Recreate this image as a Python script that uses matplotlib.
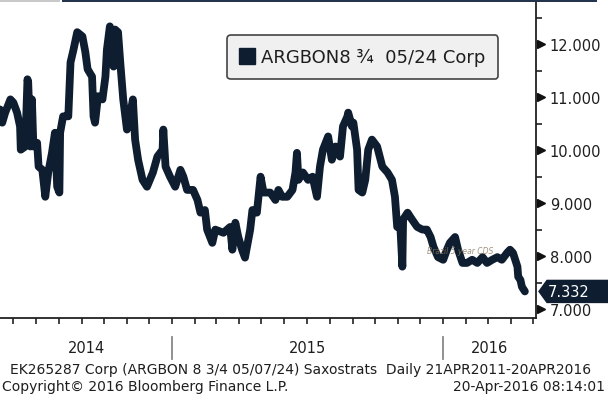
import pandas as pd
import matplotlib
matplotlib.use('Agg')
import matplotlib.pyplot as plt
import matplotlib.dates as mdates
from matplotlib.lines import Line2D
from matplotlib.patches import Polygon, Rectangle
from matplotlib.transforms import blended_transform_factory

# --- Datos (rendimiento ARGBON 8 3/4 05/24) ---
fechas = [
    '2014-05-14', '2014-05-17', '2014-05-21', '2014-05-28', '2014-06-01', '2014-06-06',
    '2014-06-10', '2014-06-11', '2014-06-17', '2014-06-20', '2014-06-21', '2014-06-24',
    '2014-06-26', '2014-06-28', '2014-07-03', '2014-07-05', '2014-07-10', '2014-07-14',
    '2014-07-18', '2014-07-23', '2014-07-27', '2014-07-30', '2014-08-02', '2014-08-03',
    '2014-08-07', '2014-08-14', '2014-08-17', '2014-08-21', '2014-08-26', '2014-09-02',
    '2014-09-06', '2014-09-09', '2014-09-15', '2014-09-17', '2014-09-19', '2014-09-23',
    '2014-09-29', '2014-10-03', '2014-10-05', '2014-10-09', '2014-10-14', '2014-10-16',
    '2014-10-20', '2014-10-23', '2014-10-27', '2014-11-01', '2014-11-05', '2014-11-09',
    '2014-11-12', '2014-11-16', '2014-11-22', '2014-11-28', '2014-12-06', '2014-12-12',
    '2014-12-19', '2014-12-20', '2014-12-23', '2014-12-29', '2015-01-05', '2015-01-12',
    '2015-01-16', '2015-01-21', '2015-01-29', '2015-02-04', '2015-02-08', '2015-02-14',
    '2015-02-17', '2015-02-24', '2015-02-28', '2015-03-11', '2015-03-20', '2015-03-23',
    '2015-03-27', '2015-03-31', '2015-04-05', '2015-04-09', '2015-04-16', '2015-04-19',
    '2015-04-25', '2015-04-30', '2015-05-04', '2015-05-13', '2015-05-20', '2015-05-24',
    '2015-05-29', '2015-06-05', '2015-06-12', '2015-06-16', '2015-06-18', '2015-06-20',
    '2015-06-26', '2015-07-03', '2015-07-09', '2015-07-15', '2015-07-19', '2015-07-23',
    '2015-07-30', '2015-08-04', '2015-08-09', '2015-08-15', '2015-08-19', '2015-08-25',
    '2015-08-26', '2015-08-31', '2015-09-02', '2015-09-07', '2015-09-09', '2015-09-14',
    '2015-09-18', '2015-09-22', '2015-09-27', '2015-10-04', '2015-10-11', '2015-10-18',
    '2015-10-24', '2015-10-28', '2015-10-31', '2015-11-04', '2015-11-07', '2015-11-08',
    '2015-11-14', '2015-11-20', '2015-11-27', '2015-12-04', '2015-12-10', '2015-12-15',
    '2015-12-19', '2015-12-25', '2016-01-01', '2016-01-06', '2016-01-10', '2016-01-17',
    '2016-01-21', '2016-01-27', '2016-02-02', '2016-02-09', '2016-02-16', '2016-02-23',
    '2016-02-29', '2016-03-07', '2016-03-14', '2016-03-20', '2016-03-27', '2016-03-31',
    '2016-04-04', '2016-04-10', '2016-04-11', '2016-04-14', '2016-04-16', '2016-04-20',
]
rendimiento = [
    10.77, 10.52, 10.71, 10.96, 10.90, 10.71,
    10.45, 10.01, 10.07, 11.34, 11.28, 10.07,
    10.96, 10.07, 10.14, 9.69, 9.63, 9.12,
    9.58, 9.95, 10.33, 9.31, 9.20, 10.33,
    10.64, 10.64, 11.66, 11.90, 12.23, 12.15,
    11.85, 11.53, 11.39, 10.64, 10.52, 11.02,
    10.96, 11.39, 11.90, 12.34, 11.58, 12.28,
    12.23, 11.66, 10.96, 10.39, 10.64, 10.96,
    10.20, 9.82, 9.44, 9.31, 9.58, 9.88,
    10.01, 10.39, 9.69, 9.50, 9.31, 9.63,
    9.50, 9.25, 9.25, 9.06, 8.82, 8.87,
    8.50, 8.25, 8.50, 8.44, 8.55, 8.12,
    8.63, 8.36, 8.12, 7.97, 8.50, 8.87,
    8.82, 9.50, 9.20, 9.20, 9.06, 9.25,
    9.12, 9.12, 9.25, 9.58, 9.95, 9.44,
    9.58, 9.44, 9.50, 9.12, 9.69, 10.01,
    10.26, 9.82, 10.07, 9.88, 10.45, 10.64,
    10.71, 10.45, 10.52, 10.01, 9.25, 9.20,
    9.44, 10.01, 10.20, 10.07, 9.69, 9.58,
    9.44, 9.12, 8.55, 8.63, 7.80, 8.69,
    8.82, 8.69, 8.55, 8.50, 8.50, 8.36,
    8.17, 7.98, 7.93, 8.12, 8.25, 8.36,
    8.12, 7.87, 7.87, 7.93, 7.87, 7.98,
    7.87, 7.93, 7.98, 7.93, 8.06, 8.12,
    8.06, 7.80, 7.61, 7.55, 7.42, 7.332,
]
anios = ['2014', '2015', '2016']
ticks_y = [7, 8, 9, 10, 11, 12]
leyenda = 'ARGBON8 \u00be  05/24 Corp'
nota = 'Brazil 5 year CDS'
pie_1 = 'EK265287 Corp (ARGBON 8 3/4 05/07/24) Saxostrats  Daily 21APR2011-20APR2016'
pie_2 = 'Copyright\u00a9 2016 Bloomberg Finance L.P.'
pie_3 = '20-Apr-2016 08:14:01'

AZUL = '#0e1e30'
TEXTO = '#1e1e1e'

plt.rcParams['font.family'] = ['DejaVu Sans']

x = pd.to_datetime(fechas)

fig = plt.figure(figsize=(6.08, 4.02), dpi=100)
ax = fig.add_axes([0, 83 / 402, 536 / 608, 316 / 402])

# Barra superior (estilo terminal)
fig.add_artist(Rectangle((0, 399 / 402), 60 / 608, 3 / 402, transform=fig.transFigure,
                         color='#c8c8c8', lw=0))
fig.add_artist(Rectangle((62 / 608, 399 / 402), 535 / 608, 3 / 402, transform=fig.transFigure,
                         color='#24344f', lw=0))

ax.plot(x, rendimiento, color=AZUL, lw=5.6, solid_joinstyle='round', solid_capstyle='round')

ax.set_xlim(pd.Timestamp('2014-05-14'), pd.Timestamp('2016-05-05'))
ax.set_ylim(6.83, 12.80)

# Ejes: solo derecho e inferior
for lado in ['top', 'left']:
    ax.spines[lado].set_visible(False)
for lado in ['right', 'bottom']:
    ax.spines[lado].set_color('#222222')
    ax.spines[lado].set_linewidth(1.3)

ax.xaxis.set_major_locator(mdates.MonthLocator())
ax.xaxis.set_major_formatter(plt.NullFormatter())
ax.tick_params(axis='x', direction='out', length=4, width=1.2, color='#222222')

ax.yaxis.tick_right()
ax.set_yticks(ticks_y)
ax.set_yticklabels([f'{v:.3f}' for v in ticks_y])
ax.set_yticks([v + 0.5 for v in ticks_y], minor=True)
ax.tick_params(axis='y', which='major', length=0, pad=10, labelsize=10.5, labelcolor=TEXTO)
ax.tick_params(axis='y', which='minor', direction='out', length=4, width=1.2, color='#222222')

# Triangulos en los ticks principales
trans_y = blended_transform_factory(ax.transAxes, ax.transData)
ax.plot([1.0 + 5 / 536] * len(ticks_y), ticks_y, linestyle='none', marker='>', ms=6,
        color='#111111', transform=trans_y, clip_on=False)

# Etiquetas de anio centradas en la parte visible
trans_x = blended_transform_factory(ax.transData, ax.transAxes)
x0, x1 = ax.get_xlim()
for anio in anios:
    ini = max(mdates.date2num(pd.Timestamp(f'{anio}-01-01')), x0)
    fin = min(mdates.date2num(pd.Timestamp(f'{int(anio) + 1}-01-01')), x1)
    ax.text((ini + fin) / 2, -0.092, anio, transform=trans_x, ha='center', va='center',
            fontsize=10.5, color=TEXTO)
    if ini > x0:
        ax.plot([ini, ini], [-0.06, -0.13], color='#888888', lw=1.3, transform=trans_x,
                clip_on=False)

# Ultimo valor
ultimo = rendimiento[-1]
h = 11 / 52.8
caja = Polygon([(539 / 536, ultimo), (547 / 536, ultimo + h), (620 / 536, ultimo + h),
                (620 / 536, ultimo - h), (547 / 536, ultimo - h)],
               closed=True, transform=trans_y, color=AZUL, clip_on=False)
ax.add_patch(caja)
ax.text(548 / 536, ultimo, f'{ultimo:.3f}', transform=trans_y, ha='left', va='center',
        fontsize=10.5, color='white')

# Nota tenue
ax.text(pd.Timestamp('2015-12-10'), 8.05, nota, fontsize=5.5, style='italic',
        color='#8a7a60', alpha=0.8)

# Leyenda
handle = Line2D([], [], linestyle='none', marker='s', ms=12, color=AZUL)
leg = ax.legend([handle], [leyenda], loc='upper left', bbox_to_anchor=(227 / 536, 0.895),
                borderaxespad=0, fontsize=13, frameon=True, fancybox=True,
                handlelength=0.8, handletextpad=0.35, borderpad=0.72)
leg.get_frame().set_facecolor('#f0f0f0')
leg.get_frame().set_edgecolor('#444444')
leg.get_frame().set_linewidth(1.2)
leg.get_frame().set_alpha(1)
for t in leg.get_texts():
    t.set_color(TEXTO)

# Pie de pagina
fig.text(10 / 608, 1 - 370 / 402, pie_1, ha='left', va='center', fontsize=10, color=TEXTO)
fig.text(2 / 608, 1 - 387 / 402, pie_2, ha='left', va='center', fontsize=10, color=TEXTO)
fig.text(605 / 608, 1 - 387 / 402, pie_3, ha='right', va='center', fontsize=10, color=TEXTO)

fig.savefig('out.png', dpi=100)
